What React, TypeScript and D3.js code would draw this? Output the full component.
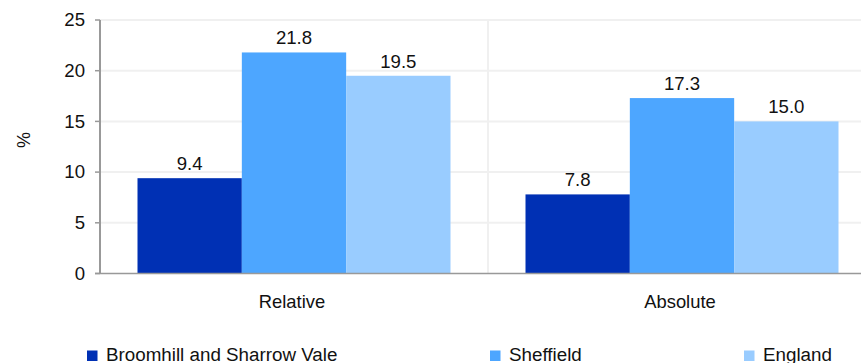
import React from "react";
import * as d3 from "d3";

const categories = ["Relative", "Absolute"];
const seriesNames = ["Broomhill and Sharrow Vale", "Sheffield", "England"];
const seriesColors = ["#0030b4", "#4da6ff", "#99ccff"];
const broomhill = [9.4, 7.8];
const sheffield = [21.8, 17.3];
const england = [19.5, 15.0];
const yTicks = [0, 5, 10, 15, 20, 25];

const W = 861;
const H = 363;
const FONT = "'Liberation Sans', Arial, sans-serif";

export default function App() {
  const series = [broomhill, sheffield, england];
  const left = 100;
  const right = 876;
  const top = 20;
  const bottom = 273.5;

  const x0 = d3.scaleBand<string>().domain(categories).range([left, right]).paddingInner(0).paddingOuter(0);
  const inner = 313 / 388;
  const x1 = d3
    .scaleBand<number>()
    .domain(seriesNames.map((_, i) => i))
    .range([0, x0.bandwidth()])
    .paddingOuter((1 - inner) / 2 / (inner / 3))
    .paddingInner(0);
  const y = d3.scaleLinear().domain([0, 25]).range([bottom, top]);

  return (
    <svg width={W} height={H} style={{ position: "absolute", left: 0, top: 0 }} fontFamily={FONT}>
      <rect x={0} y={0} width={W} height={H} fill="#fff" />
      {yTicks.slice(1).map((t) => (
        <line key={"g" + t} x1={left} x2={right} y1={y(t)} y2={y(t)} stroke="#f0f0f0" strokeWidth={2} />
      ))}
      {categories.slice(1).map((c) => (
        <line key={"v" + c} x1={x0(c)!} x2={x0(c)!} y1={top} y2={bottom} stroke="#f0f0f0" strokeWidth={2} />
      ))}
      {categories.map((c, ci) =>
        series.map((s, si) => {
          const bx = x0(c)! + x1(si)!;
          const bw = x1.bandwidth();
          return (
            <g key={c + si}>
              <rect x={bx} y={y(s[ci])} width={bw} height={bottom - y(s[ci])} fill={seriesColors[si]} />
              <text x={bx + bw / 2} y={y(s[ci]) - 8} textAnchor="middle" fontSize={18.6} fill="#111">
                {s[ci].toFixed(1)}
              </text>
            </g>
          );
        })
      )}
      <line x1={left} x2={left} y1={top} y2={bottom} stroke="#999" strokeWidth={2} />
      <line x1={left - 5} x2={right} y1={bottom} y2={bottom} stroke="#999" strokeWidth={1.5} />
      {yTicks.map((t) => (
        <g key={"t" + t}>
          <line x1={left - 5} x2={left} y1={y(t)} y2={y(t)} stroke="#999" strokeWidth={1.5} />
          <text x={85} y={y(t) + 6.3} textAnchor="end" fontSize={18.6} fill="#111">
            {t}
          </text>
        </g>
      ))}
      <text transform={`translate(30,140) rotate(-90)`} textAnchor="middle" fontSize={18} fill="#111">
        %
      </text>
      {categories.map((c) => (
        <text key={"c" + c} x={x0(c)! + x0.bandwidth() / 2 - 2} y={307.5} textAnchor="middle" fontSize={18.4} fill="#111">
          {c}
        </text>
      ))}
      {[
        [87, 106],
        [490, 509],
        [744, 763],
      ].map(([sx, tx], i) => (
        <g key={"l" + i}>
          <rect x={sx} y={350.5} width={10.5} height={10.5} fill={seriesColors[i]} />
          <text x={tx} y={360.5} fontSize={18.8} fill="#111">
            {seriesNames[i]}
          </text>
        </g>
      ))}
    </svg>
  );
}
